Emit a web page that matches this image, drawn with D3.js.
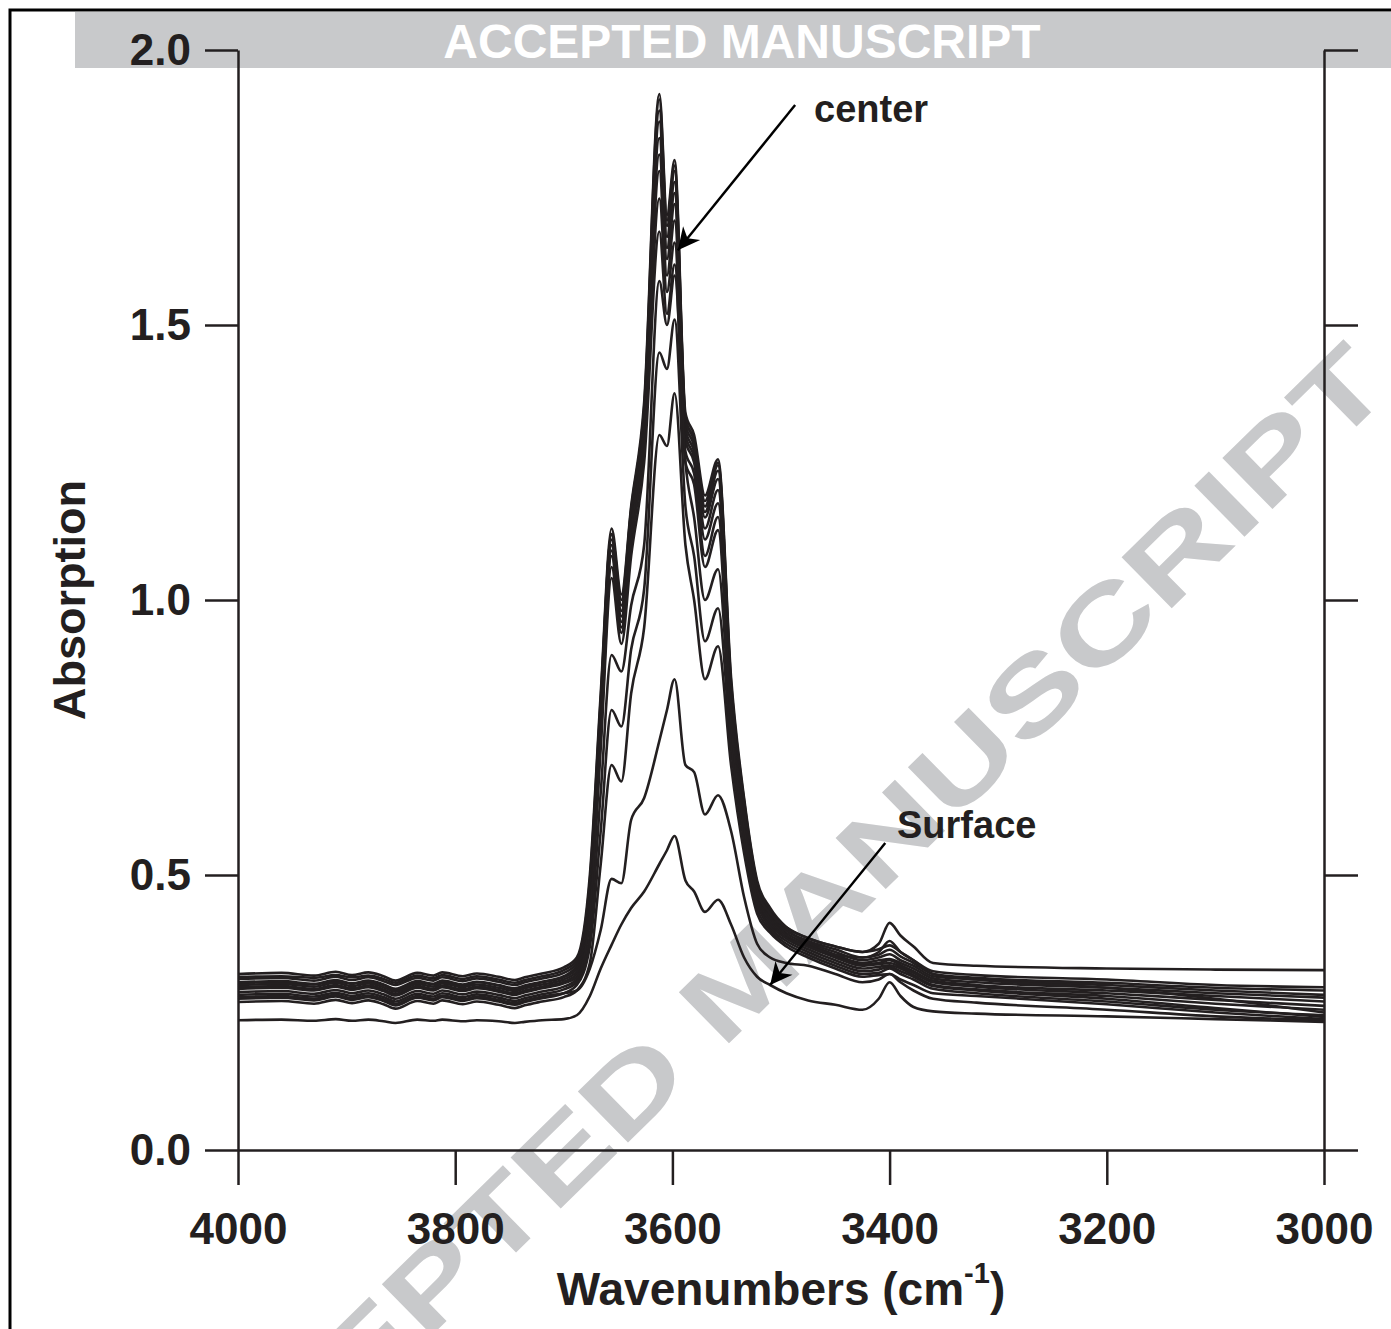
<!DOCTYPE html>
<html>
<head>
<meta charset="utf-8">
<script src="https://cdn.jsdelivr.net/npm/d3@7"></script>
<style>
    body { margin: 0; background: #ffffff; }
    svg { display: block; font-family: "Liberation Sans", Arial, sans-serif; }
</style>
</head>
<body>
<div id="chart-area"></div>
<script>
/*
*    FTIR spectra, 4000-3000 cm-1
*/

var w = 1391;
var h = 1329;

// wavenumbers shared by every spectrum (cm-1)
var wavenumbers = [4000, 3960, 3930, 3910, 3895, 3880, 3866, 3855, 3835, 3820,
    3812, 3793, 3780, 3760, 3745, 3736, 3720, 3700,
    3688, 3676, 3666, 3656, 3647, 3638, 3626, 3612, 3605, 3598,
    3588, 3580, 3570, 3558, 3546, 3534, 3522, 3510, 3495, 3475,
    3450, 3425, 3410, 3400, 3390, 3378, 3360, 3320, 3200, 3100, 3000];

// absorption, one array per spectrum (center -> surface)
var spectrum01 = [0.320, 0.322, 0.317, 0.324, 0.318, 0.323, 0.316, 0.308, 0.322, 0.317,
    0.323, 0.316, 0.321, 0.315, 0.309, 0.314, 0.321, 0.332,
    0.350, 0.50, 0.83, 1.13, 1.01, 1.17, 1.36, 1.92, 1.70, 1.80,
    1.34, 1.30, 1.19, 1.256, 0.86, 0.64, 0.49, 0.44, 0.405, 0.385,
    0.37, 0.36, 0.365, 0.372, 0.36, 0.345, 0.325, 0.318, 0.31, 0.30, 0.296];
var spectrum02 = [0.315, 0.316, 0.313, 0.318, 0.314, 0.317, 0.311, 0.304, 0.317, 0.312,
    0.318, 0.311, 0.316, 0.310, 0.304, 0.309, 0.316, 0.327,
    0.345, 0.49, 0.82, 1.12, 1.00, 1.165, 1.35, 1.91, 1.69, 1.79,
    1.33, 1.29, 1.18, 1.25, 0.85, 0.635, 0.485, 0.435, 0.40, 0.38,
    0.365, 0.35, 0.355, 0.364, 0.352, 0.34, 0.32, 0.313, 0.304, 0.295, 0.29];
var spectrum03 = [0.311, 0.313, 0.308, 0.315, 0.309, 0.314, 0.307, 0.300, 0.313, 0.308,
    0.314, 0.307, 0.312, 0.306, 0.300, 0.305, 0.312, 0.322,
    0.340, 0.48, 0.81, 1.12, 0.99, 1.16, 1.34, 1.89, 1.68, 1.78,
    1.33, 1.29, 1.17, 1.245, 0.84, 0.63, 0.48, 0.43, 0.40, 0.378,
    0.36, 0.345, 0.35, 0.356, 0.345, 0.335, 0.316, 0.31, 0.30, 0.29, 0.282];
var spectrum04 = [0.305, 0.307, 0.302, 0.309, 0.303, 0.308, 0.301, 0.293, 0.307, 0.302,
    0.308, 0.301, 0.306, 0.300, 0.294, 0.299, 0.306, 0.316,
    0.335, 0.47, 0.80, 1.11, 0.98, 1.15, 1.33, 1.87, 1.66, 1.76,
    1.32, 1.28, 1.16, 1.235, 0.83, 0.625, 0.475, 0.43, 0.395, 0.375,
    0.355, 0.34, 0.345, 0.347, 0.34, 0.33, 0.312, 0.305, 0.295, 0.285, 0.277];
var spectrum05 = [0.304, 0.305, 0.301, 0.307, 0.302, 0.306, 0.300, 0.291, 0.305, 0.301,
    0.306, 0.299, 0.305, 0.299, 0.292, 0.297, 0.305, 0.314,
    0.330, 0.46, 0.79, 1.10, 0.97, 1.14, 1.32, 1.84, 1.64, 1.74,
    1.31, 1.27, 1.15, 1.22, 0.82, 0.62, 0.47, 0.425, 0.39, 0.372,
    0.352, 0.338, 0.34, 0.345, 0.336, 0.325, 0.308, 0.30, 0.29, 0.28, 0.27];
var spectrum06 = [0.300, 0.302, 0.297, 0.304, 0.298, 0.303, 0.296, 0.288, 0.302, 0.297,
    0.303, 0.296, 0.301, 0.295, 0.289, 0.294, 0.301, 0.310,
    0.325, 0.45, 0.78, 1.09, 0.96, 1.13, 1.31, 1.81, 1.62, 1.72,
    1.30, 1.26, 1.13, 1.20, 0.81, 0.61, 0.465, 0.42, 0.39, 0.37,
    0.35, 0.335, 0.338, 0.34, 0.333, 0.322, 0.305, 0.297, 0.285, 0.273, 0.262];
var spectrum07 = [0.296, 0.298, 0.293, 0.300, 0.294, 0.299, 0.292, 0.284, 0.298, 0.293,
    0.299, 0.292, 0.297, 0.291, 0.285, 0.290, 0.297, 0.306,
    0.320, 0.44, 0.77, 1.08, 0.95, 1.12, 1.30, 1.78, 1.59, 1.69,
    1.29, 1.25, 1.11, 1.176, 0.80, 0.61, 0.47, 0.43, 0.405, 0.385,
    0.37, 0.36, 0.375, 0.413, 0.39, 0.37, 0.34, 0.335, 0.33, 0.328, 0.327];
var spectrum08 = [0.293, 0.295, 0.290, 0.297, 0.291, 0.296, 0.289, 0.281, 0.295, 0.290,
    0.296, 0.289, 0.294, 0.288, 0.282, 0.287, 0.294, 0.303,
    0.315, 0.43, 0.75, 1.06, 0.94, 1.10, 1.28, 1.73, 1.56, 1.65,
    1.27, 1.23, 1.08, 1.151, 0.79, 0.60, 0.46, 0.415, 0.385, 0.365,
    0.345, 0.33, 0.333, 0.336, 0.33, 0.318, 0.30, 0.292, 0.28, 0.266, 0.255];
var spectrum09 = [0.287, 0.289, 0.284, 0.291, 0.285, 0.290, 0.283, 0.275, 0.289, 0.284,
    0.290, 0.283, 0.288, 0.282, 0.276, 0.281, 0.288, 0.297,
    0.310, 0.42, 0.73, 1.04, 0.92, 1.08, 1.25, 1.67, 1.52, 1.61,
    1.25, 1.21, 1.06, 1.127, 0.78, 0.59, 0.455, 0.41, 0.385, 0.37,
    0.355, 0.35, 0.36, 0.38, 0.36, 0.345, 0.32, 0.31, 0.295, 0.275, 0.25];
var spectrum10 = [0.282, 0.284, 0.279, 0.286, 0.280, 0.285, 0.278, 0.270, 0.284, 0.279,
    0.285, 0.278, 0.283, 0.277, 0.271, 0.276, 0.283, 0.292,
    0.305, 0.39, 0.65, 0.90, 0.87, 0.99, 1.10, 1.58, 1.50, 1.59,
    1.25, 1.15, 1.00, 1.056, 0.76, 0.58, 0.45, 0.405, 0.38, 0.36,
    0.34, 0.325, 0.328, 0.333, 0.325, 0.315, 0.298, 0.29, 0.275, 0.258, 0.242];
var spectrum11 = [0.275, 0.277, 0.272, 0.279, 0.273, 0.278, 0.271, 0.263, 0.277, 0.272,
    0.278, 0.271, 0.276, 0.270, 0.264, 0.269, 0.276, 0.285,
    0.300, 0.37, 0.58, 0.80, 0.77, 0.91, 1.02, 1.45, 1.42, 1.51,
    1.17, 1.08, 0.925, 0.985, 0.73, 0.56, 0.44, 0.40, 0.375, 0.355,
    0.335, 0.32, 0.322, 0.33, 0.32, 0.31, 0.293, 0.285, 0.27, 0.255, 0.245];
var spectrum12 = [0.269, 0.271, 0.266, 0.273, 0.267, 0.272, 0.265, 0.257, 0.271, 0.266,
    0.272, 0.265, 0.270, 0.264, 0.258, 0.263, 0.270, 0.278,
    0.290, 0.34, 0.52, 0.70, 0.67, 0.83, 0.95, 1.30, 1.28, 1.376,
    1.10, 1.00, 0.856, 0.916, 0.70, 0.54, 0.43, 0.395, 0.37, 0.35,
    0.33, 0.315, 0.318, 0.32, 0.31, 0.30, 0.285, 0.28, 0.265, 0.25, 0.238];
var spectrum13 = [0.278, 0.280, 0.275, 0.282, 0.276, 0.281, 0.274, 0.266, 0.280, 0.275,
    0.281, 0.274, 0.279, 0.273, 0.267, 0.272, 0.279, 0.285,
    0.290, 0.33, 0.40, 0.493, 0.485, 0.60, 0.64, 0.744, 0.80, 0.856,
    0.70, 0.687, 0.61, 0.645, 0.58, 0.46, 0.375, 0.35, 0.34, 0.335,
    0.32, 0.305, 0.31, 0.32, 0.305, 0.29, 0.275, 0.268, 0.255, 0.243, 0.236];
var spectrum14 = [0.236, 0.237, 0.235, 0.238, 0.235, 0.237, 0.234, 0.231, 0.237, 0.235,
    0.237, 0.234, 0.236, 0.234, 0.231, 0.233, 0.236, 0.238,
    0.245, 0.28, 0.33, 0.373, 0.41, 0.44, 0.47, 0.52, 0.545, 0.571,
    0.49, 0.47, 0.433, 0.455, 0.41, 0.35, 0.315, 0.30, 0.285, 0.272,
    0.264, 0.255, 0.275, 0.305, 0.28, 0.26, 0.252, 0.248, 0.243, 0.238, 0.233];

var spectra = [spectrum01, spectrum02, spectrum03, spectrum04, spectrum05, spectrum06, spectrum07,
    spectrum08, spectrum09, spectrum10, spectrum11, spectrum12, spectrum13, spectrum14];

// axis ticks
var xTicks = [4000, 3800, 3600, 3400, 3200, 3000];
var yTicks = [0.0, 0.5, 1.0, 1.5, 2.0];

// arrow annotations: label, arrow tail and arrow tip (data units)
var noteLabels = ["center", "Surface"];
var noteFrom = [[3487, 1.90], [3404, 0.558]];
var noteTo = [[3595, 1.636], [3510, 0.30]];

var ink = "#231f20";
var grey = "#c8c9cb";

var svg = d3.select("#chart-area")
    .append("svg")
        .attr("width", w)
        .attr("height", h);

// page frame and the "accepted manuscript" banner
svg.append("path")
    .attr("d", "M10," + h + "V10H" + w)
    .attr("fill", "none")
    .attr("stroke", "#000")
    .attr("stroke-width", 3);

svg.append("rect")
    .attr("x", 75)
    .attr("y", 12)
    .attr("width", w - 75)
    .attr("height", 56)
    .attr("fill", grey);

svg.append("text")
    .attr("x", 742)
    .attr("y", 58)
    .attr("text-anchor", "middle")
    .attr("font-size", 48)
    .attr("font-weight", "bold")
    .attr("fill", "#fff")
    .text("ACCEPTED MANUSCRIPT");

// diagonal watermark (wide letters, partly off the page as in the original)
svg.append("text")
    .attr("transform", "translate(767,1006) rotate(-44.5) scale(1.36,1)")
    .attr("text-anchor", "middle")
    .attr("font-size", 104)
    .attr("font-weight", "bold")
    .attr("fill", grey)
    .text("ACCEPTED MANUSCRIPT");

var x = d3.scaleLinear()
    .domain([4000, 3000])
    .range([238, 1324]);

var y = d3.scaleLinear()
    .domain([0, 2])
    .range([1150, 50]);

// axes
var xAxis = svg.append("g")
    .attr("transform", "translate(0,1150)")
    .call(d3.axisBottom(x)
        .tickValues(xTicks)
        .tickSize(35)
        .tickSizeOuter(0)
        .tickPadding(28)
        .tickFormat(d3.format("d")));

var yAxis = svg.append("g")
    .attr("transform", "translate(238,0)")
    .call(d3.axisLeft(y)
        .tickValues(yTicks)
        .tickSize(33)
        .tickSizeOuter(0)
        .tickPadding(14)
        .tickFormat(d3.format(".1f")));

var yAxisRight = svg.append("g")
    .attr("transform", "translate(1324,0)")
    .call(d3.axisRight(y)
        .tickValues(yTicks)
        .tickSize(34)
        .tickSizeOuter(0)
        .tickFormat(""));

svg.selectAll(".tick text")
    .attr("font-family", "'Liberation Sans', Arial, sans-serif")
    .attr("font-size", 44)
    .attr("font-weight", "bold")
    .attr("fill", ink);

svg.selectAll(".domain, .tick line")
    .attr("stroke", ink)
    .attr("stroke-width", 2.5);

// axis titles
svg.append("text")
    .attr("transform", "translate(85,600) rotate(-90)")
    .attr("text-anchor", "middle")
    .attr("font-size", 45)
    .attr("font-weight", "bold")
    .attr("fill", ink)
    .text("Absorption");

var xTitle = svg.append("text")
    .attr("x", 781)
    .attr("y", 1305)
    .attr("text-anchor", "middle")
    .attr("font-size", 46)
    .attr("font-weight", "bold")
    .attr("fill", ink);
xTitle.append("tspan").text("Wavenumbers (cm");
xTitle.append("tspan").attr("dy", -22).attr("font-size", 29).text("-1");
xTitle.append("tspan").attr("dy", 22).text(")");

// spectra
var line = d3.line()
    .x(function(d, i){
        return x(wavenumbers[i]);
    })
    .y(function(d){
        return y(d);
    })
    .curve(d3.curveMonotoneX);

svg.selectAll("path.spectrum")
    .data(spectra)
    .enter()
    .append("path")
        .attr("class", "spectrum")
        .attr("d", line)
        .attr("fill", "none")
        .attr("stroke", ink)
        .attr("stroke-width", 2.6)
        .attr("stroke-linejoin", "round");

// arrows
svg.append("defs")
    .append("marker")
        .attr("id", "head")
        .attr("viewBox", "0 0 10 10")
        .attr("refX", 10)
        .attr("refY", 5)
        .attr("markerUnits", "userSpaceOnUse")
        .attr("markerWidth", 32)
        .attr("markerHeight", 22)
        .attr("orient", "auto")
    .append("path")
        .attr("d", "M0,0L10,5L0,10L3,5Z")
        .attr("fill", "#000");

noteLabels.forEach(function(label, i){
    svg.append("line")
        .attr("x1", x(noteFrom[i][0]))
        .attr("y1", y(noteFrom[i][1]))
        .attr("x2", x(noteTo[i][0]))
        .attr("y2", y(noteTo[i][1]))
        .attr("stroke", "#000")
        .attr("stroke-width", 2.4)
        .attr("marker-end", "url(#head)");
});

svg.append("text")
    .attr("x", 814)
    .attr("y", 122)
    .attr("font-size", 38)
    .attr("font-weight", "bold")
    .attr("fill", ink)
    .text(noteLabels[0]);

svg.append("text")
    .attr("x", 897)
    .attr("y", 838)
    .attr("font-size", 38)
    .attr("font-weight", "bold")
    .attr("fill", ink)
    .text(noteLabels[1]);
</script>
</body>
</html>
